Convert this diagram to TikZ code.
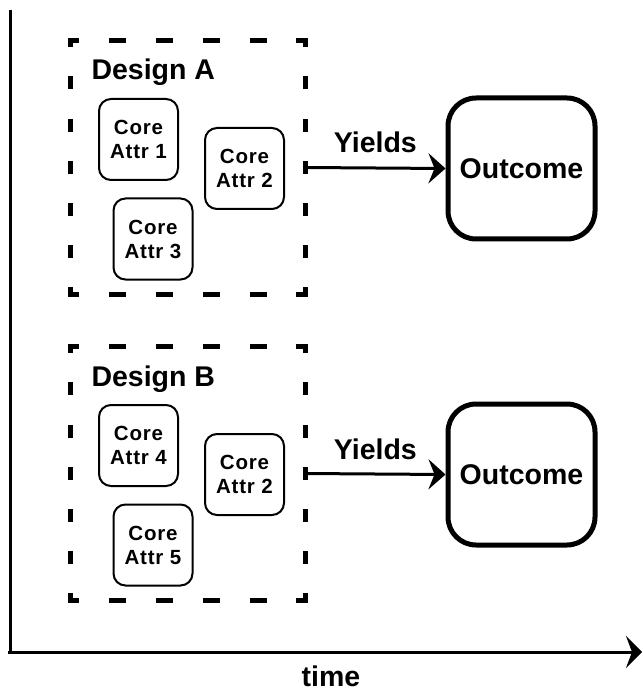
\documentclass[tikz,border=0pt]{standalone}
\usepackage{fontspec}
\setmainfont{Liberation Sans}
\newfontfamily\attrfont[LetterSpace=4]{Liberation Sans}
\usetikzlibrary{arrows.meta}

\tikzset{
  big/.style={font=\fontsize{28.5}{32}\selectfont\bfseries},
  attrbox/.style={draw, line width=2pt, rounded corners=12pt,
    minimum width=79pt, minimum height=81pt, inner sep=0pt, align=center,
    font=\attrfont\fontsize{20.5}{24}\selectfont\bfseries},
  outbox/.style={draw, line width=5pt, rounded corners=28pt,
    minimum width=147pt, minimum height=141pt, inner sep=0pt, big},
  frame/.style={draw=none, minimum width=234pt, minimum height=253pt, inner sep=0pt},
  hdash/.style={line width=5pt, line cap=rect, dash pattern=on 12pt off 34.8pt, dash phase=6pt},
  vdash/.style={line width=5pt, line cap=rect, dash pattern=on 8pt off 34.17pt, dash phase=4pt},
  flow/.style={line width=3pt, -{Stealth[length=17pt, width=30pt, inset=6pt]}},
  axis/.style={line width=3pt, -{Stealth[length=16pt, width=32pt, inset=6pt]}},
}

\begin{document}
\begin{tikzpicture}[x=1pt, y=-1pt]
  \useasboundingbox (0,0) rectangle (642,692);

  % time axes
  \coordinate (ytop) at (10,10);
  \coordinate (origin) at (10,652);
  \coordinate (xstart) at (8,652);
  \coordinate (xend) at (642,652);
  \draw[line width=3pt] (ytop) -- (origin);
  \draw[axis] (xstart) -- (xend);
  \node[big, anchor=base] (tlabel) at (331,686) {time};

  % the two designs, each with its core attributes
  \foreach \d/\dy/\na/\nb/\nc in {A/0/1/2/3, B/306/4/2/5}{
    \node[frame] (frame\d) at (188,167.5+\dy) {};
    \draw[hdash] (frame\d.north west) -- (frame\d.north east);
    \draw[hdash] (frame\d.south west) -- (frame\d.south east);
    \draw[vdash] (frame\d.north west) -- (frame\d.south west);
    \draw[vdash] (frame\d.north east) -- (frame\d.south east);
    \node[big, anchor=base west] (title\d) at (88,80+\dy) {Design \d};
    \node[attrbox] (p\d) at (138.5,139.5+\dy) {Core\\Attr \na};
    \node[attrbox] (q\d) at (244.5,168.5+\dy) {Core\\Attr \nb};
    \node[attrbox] (r\d) at (153,239+\dy) {Core\\Attr \nc};
    \node[outbox] (out\d) at (521.5,168.5+\dy) {Outcome};
    \draw[flow] (frame\d.east) -- node[big, anchor=base, yshift=15pt] {Yields} (out\d.west);
  }
\end{tikzpicture}
\end{document}
